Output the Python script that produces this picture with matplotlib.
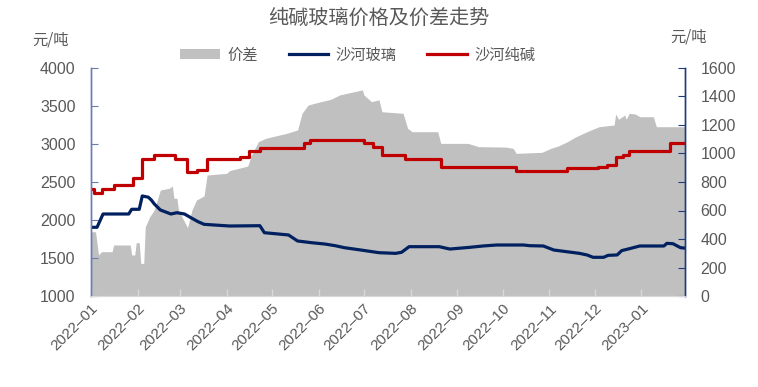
import matplotlib
matplotlib.use("Agg")
import matplotlib.pyplot as plt
import pandas as pd

# ---------------- data ----------------
soda_dates = ["2022-01-01", "2022-01-03", "2022-01-08", "2022-01-16", "2022-01-29",
              "2022-02-04", "2022-02-12", "2022-02-26", "2022-03-06", "2022-03-12",
              "2022-03-19", "2022-04-10", "2022-04-16", "2022-04-23", "2022-05-22",
              "2022-05-26", "2022-07-01", "2022-07-07", "2022-07-13", "2022-07-28",
              "2022-08-21", "2022-10-10", "2022-11-13", "2022-12-03", "2022-12-09",
              "2022-12-15", "2022-12-20", "2022-12-24", "2023-01-20", "2023-01-30"]
soda_values = [2404, 2360, 2404, 2461, 2549,
               2799, 2855, 2799, 2636, 2658,
               2799, 2825, 2908, 2951, 3009,
               3053, 3018, 2965, 2855, 2799,
               2693, 2649, 2680, 2702, 2724,
               2825, 2855, 2908, 3009, 3009]

glass_dates = ["2022-01-01", "2022-01-05", "2022-01-09", "2022-01-26", "2022-01-28",
               "2022-02-02", "2022-02-04", "2022-02-08", "2022-02-10", "2022-02-12",
               "2022-02-16", "2022-02-23", "2022-02-27", "2022-03-04", "2022-03-09",
               "2022-03-13", "2022-03-17", "2022-04-03", "2022-04-23", "2022-04-26",
               "2022-05-12", "2022-05-18", "2022-05-27", "2022-06-05", "2022-06-12",
               "2022-06-18", "2022-06-29", "2022-07-11", "2022-07-22", "2022-07-26",
               "2022-07-31", "2022-08-20", "2022-08-27", "2022-09-09", "2022-09-18",
               "2022-09-27", "2022-10-15", "2022-10-19", "2022-10-28", "2022-11-04",
               "2022-11-21", "2022-11-26", "2022-11-30", "2022-12-07", "2022-12-10",
               "2022-12-16", "2022-12-19", "2022-12-25", "2022-12-31", "2023-01-16",
               "2023-01-18", "2023-01-22", "2023-01-27", "2023-01-30"]
glass_values = [1904, 1904, 2079, 2079, 2141,
                2141, 2316, 2300, 2263, 2211,
                2132, 2079, 2096, 2079, 2022,
                1978, 1943, 1921, 1925, 1833,
                1803, 1724, 1702, 1684, 1662,
                1636, 1605, 1570, 1561, 1575,
                1649, 1649, 1618, 1640, 1658,
                1671, 1671, 1662, 1658, 1605,
                1561, 1540, 1509, 1509, 1535,
                1540, 1597, 1627, 1658, 1658,
                1693, 1688, 1636, 1630]

spread_dates = ["2022-01-01", "2022-01-04", "2022-01-06", "2022-01-08", "2022-01-15",
                "2022-01-16", "2022-01-27", "2022-01-28", "2022-01-30", "2022-01-31",
                "2022-02-02", "2022-02-03", "2022-02-05", "2022-02-06", "2022-02-09",
                "2022-02-12", "2022-02-16", "2022-02-22", "2022-02-24", "2022-02-25",
                "2022-02-27", "2022-02-28", "2022-03-06", "2022-03-09", "2022-03-12",
                "2022-03-17", "2022-03-19", "2022-04-01", "2022-04-03", "2022-04-09",
                "2022-04-15", "2022-04-17", "2022-04-22", "2022-04-27", "2022-05-11",
                "2022-05-18", "2022-05-21", "2022-05-25", "2022-06-01", "2022-06-09",
                "2022-06-15", "2022-06-23", "2022-06-30", "2022-07-01", "2022-07-06",
                "2022-07-11", "2022-07-13", "2022-07-27", "2022-07-30", "2022-08-02",
                "2022-08-19", "2022-08-21", "2022-09-08", "2022-09-15", "2022-10-03",
                "2022-10-08", "2022-10-10", "2022-10-27", "2022-11-02", "2022-11-07",
                "2022-11-13", "2022-11-18", "2022-11-26", "2022-12-04", "2022-12-14",
                "2022-12-15", "2022-12-17", "2022-12-21", "2022-12-22", "2022-12-24",
                "2022-12-28", "2022-12-31", "2023-01-09", "2023-01-11", "2023-01-30"]
spread_values = [451, 451, 288, 311, 311,
                 358, 358, 288, 288, 374,
                 374, 229, 229, 486, 557,
                 604, 744, 756, 772, 686,
                 686, 604, 480, 604, 674,
                 702, 849, 861, 880, 896,
                 912, 978, 1083, 1107, 1142,
                 1165, 1282, 1340, 1360, 1380,
                 1411, 1430, 1446, 1411, 1364,
                 1376, 1293, 1282, 1177, 1153,
                 1153, 1071, 1071, 1048, 1045,
                 1036, 1001, 1008, 1036, 1053,
                 1083, 1114, 1153, 1188, 1200,
                 1277, 1240, 1270, 1240, 1282,
                 1277, 1258, 1258, 1188, 1188]

month_ticks = ["2022-01", "2022-02", "2022-03", "2022-04", "2022-05", "2022-06", "2022-07",
               "2022-08", "2022-09", "2022-10", "2022-11", "2022-12", "2023-01"]
left_ticks = [1000, 1500, 2000, 2500, 3000, 3500, 4000]
right_ticks = [0, 200, 400, 600, 800, 1000, 1200, 1400, 1600]

title = "纯碱玻璃价格及价差走势"
unit = "元/吨"
labels = ["价差", "沙河玻璃", "沙河纯碱"]

# ---------------- style ----------------
CJK = ["Noto Sans CJK SC", "DejaVu Sans"]
NUM = ["Liberation Sans", "DejaVu Sans"]
TXT = "#595959"
GRAY = "#c0c0c0"
NAVY = "#002060"
RED = "#c00000"

fig = plt.figure(figsize=(7.58, 3.87), dpi=100)
ax = fig.add_axes([91/758, 91/387, (685-91)/758, (296-68)/387])  # spread (right scale)
axl = ax.twinx()  # prices (left scale)
ax.yaxis.tick_right()
ax.yaxis.set_label_position("right")
axl.yaxis.tick_left()
axl.yaxis.set_label_position("left")

sd = pd.to_datetime(spread_dates)
gd = pd.to_datetime(glass_dates)
cd = pd.to_datetime(soda_dates)

h_area = ax.fill_between(sd, 0, spread_values, color=GRAY, linewidth=0, label=labels[0])
h_glass, = axl.plot(gd, glass_values, color=NAVY, lw=2.3, label=labels[1])
h_soda, = axl.step(cd, soda_values, where="post", color=RED, lw=2.3, label=labels[2])

ax.set_xlim(pd.Timestamp("2022-01-01"), pd.Timestamp("2023-01-30"))
ax.set_ylim(0, 1600)
axl.set_ylim(1000, 4000)
ax.set_yticks(right_ticks)
axl.set_yticks(left_ticks)

ax.set_xticks(pd.to_datetime(month_ticks))
ax.set_xticklabels([m.replace("-", "–") for m in month_ticks], rotation=45,
                   ha="right", va="top", rotation_mode="anchor",
                   fontfamily=NUM, fontsize=11, color=TXT)
ax.tick_params(axis="x", direction="in", length=5, color="#d9d9d9", width=1, pad=4)

for lab in ax.get_yticklabels():
    lab.set_fontfamily(NUM)
ax.tick_params(axis="y", direction="in", length=5, color="#1f3b7a", labelsize=11.5,
               labelcolor=TXT, pad=11)
for lab in axl.get_yticklabels():
    lab.set_fontfamily(NUM)
axl.tick_params(axis="y", direction="in", length=5, color="#6b7db3", labelsize=11.5,
                labelcolor=TXT, pad=11)

for a in (ax, axl):
    a.spines["top"].set_visible(False)
    a.spines["bottom"].set_color("#d9d9d9")
    a.spines["left"].set_color("#6b7db3")
    a.spines["right"].set_color("#1f3b7a")
    a.spines["left"].set_linewidth(1.0)
    a.spines["right"].set_linewidth(1.0)
ax.set_facecolor("none")
axl.set_facecolor("none")
ax.set_zorder(0)
axl.set_zorder(1)

fig.text(0.5, 1 - 18/387, title, ha="center", va="center", fontfamily=CJK,
         fontsize=14.5, color=TXT)
fig.text(51/758, 1 - 40/387, unit, ha="center", va="center", fontfamily=CJK,
         fontsize=11, color=TXT)
fig.text(689/758, 1 - 37/387, unit, ha="center", va="center", fontfamily=CJK,
         fontsize=11, color=TXT)

leg = fig.legend([h_area, h_glass, h_soda], labels, loc="center",
                 bbox_to_anchor=(358/758, 1 - 55/387), ncol=3, frameon=False,
                 prop={"family": CJK, "size": 11}, handlelength=2.6,
                 handleheight=0.6, handletextpad=0.5, columnspacing=2.0)
for t in leg.get_texts():
    t.set_color(TXT)

fig.savefig("out.png", dpi=100)
